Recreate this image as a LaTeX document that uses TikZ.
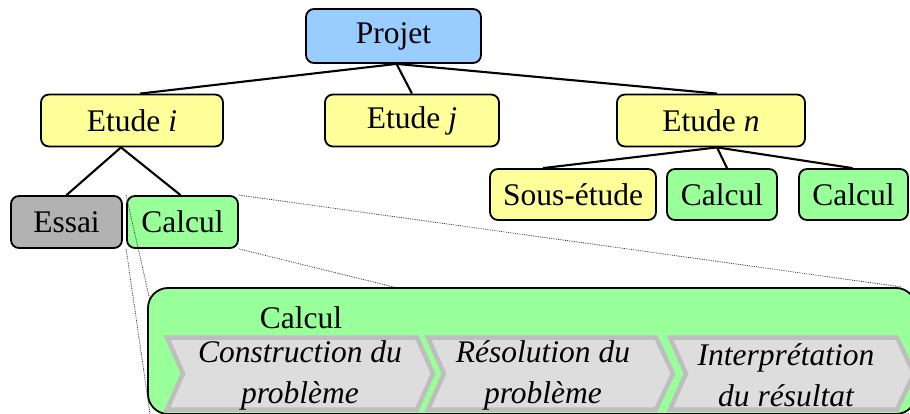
\documentclass[tikz,border=0pt]{standalone}
\usepackage{fontspec}
\setmainfont{Liberation Serif}
\definecolor{cblue}{HTML}{99CCFF}
\definecolor{cyellow}{HTML}{FFFF99}
\definecolor{cgreen}{HTML}{99FF99}
\definecolor{cgray}{HTML}{B2B2B2}
\definecolor{chfill}{HTML}{DDDDDD}
\definecolor{chline}{HTML}{BEBEBE}
\tikzset{
  box/.style={draw=black, line width=1.8pt, rounded corners=8pt, inner sep=0pt, align=center,
    font=\fontsize{31.5}{36}\selectfont},
  proj/.style={box, fill=cblue},
  etude/.style={box, fill=cyellow},
  calc/.style={box, fill=cgreen},
  essai/.style={box, fill=cgray},
  link/.style={draw=black, line width=2.1pt},
  zoomline/.style={draw=black!80, line width=0.8pt, densely dotted},
  chev/.style={draw=chline, fill=chfill, line width=4.5pt, line join=miter},
  chevtext/.style={align=center, inner sep=0pt, font=\fontsize{31.5}{41}\selectfont\itshape},
}
\begin{document}
\begin{tikzpicture}[x=1pt,y=-1pt]
\clip (0,0) rectangle (910,414);
% tree nodes
\node[proj, minimum width=175pt, minimum height=54pt] (projet) at (393.5,36) {Projet};
\node[etude, minimum width=182pt, minimum height=52pt] (ei) at (132,120.5) {Etude \textit{i}};
\node[etude, minimum width=174pt, minimum height=52pt] (ej) at (412,120.5) {Etude \textit{j}};
\node[etude, minimum width=188pt, minimum height=52pt] (en) at (711,120.5) {Etude \textit{n}};
\node[etude, minimum width=166pt, minimum height=51pt] (se) at (573,194.5) {Sous-étude};
\node[calc, minimum width=110pt, minimum height=51pt] (cn1) at (722,194.5) {Calcul};
\node[calc, minimum width=109pt, minimum height=51pt] (cn2) at (853.5,194.5) {Calcul};
\node[essai, minimum width=111pt, minimum height=52pt] (essai) at (66.5,222) {Essai};
\node[calc, minimum width=111pt, minimum height=52pt] (ci) at (182.5,222) {Calcul};
% connectors
\draw[link] ([xshift=3pt]projet.south) -- ([xshift=8pt]ei.north);
\draw[link] ([xshift=3pt]projet.south) -- (ej.north);
\draw[link] ([xshift=3pt]projet.south) -- ([xshift=6pt]en.north);
\draw[link] ([xshift=-11pt]ei.south) -- (essai.north);
\draw[link] ([xshift=-11pt]ei.south) -- ([xshift=-2pt]ci.north);
\draw[link] ([xshift=6pt]en.south) -- ([xshift=-30pt]se.north);
\draw[link] ([xshift=6pt]en.south) -- ([xshift=5pt]cn1.north);
\draw[link] ([xshift=6pt]en.south) -- ([xshift=-1pt]cn2.north);
% zoom lines
\coordinate (zne) at (902,287);
\coordinate (zse) at (910,414);
\coordinate (znw) at (151,305);
\coordinate (zsw) at (150,414);
\draw[zoomline] (ci.north east) -- (zne);
\draw[zoomline] (ci.south east) -- (zse);
\draw[zoomline] (ci.north west) -- (znw);
\draw[zoomline] (ci.south west) -- (zsw);
% big zoom box
\node[draw=black, line width=1.8pt, fill=cgreen, rounded corners=20pt, minimum width=768pt, minimum height=126pt, inner sep=0pt] (big) at (532,351) {};
\node[font=\fontsize{31.5}{36}\selectfont, inner sep=0pt] (bigtitle) at (301,318) {Calcul};
% chevrons
\path[chev] (167,337.5) -- (417,337.5) -- (433,373.5) -- (417,409.5) -- (167,409.5) -- (183,373.5) -- cycle;
\path[chev] (428,337.5) -- (656,337.5) -- (673,373.5) -- (656,409.5) -- (428,409.5) -- (444,373.5) -- cycle;
\path[chev] (670,337.5) -- (897,337.5) -- (914,373.5) -- (897,409.5) -- (670,409.5) -- (686,373.5) -- cycle;
\node[chevtext] (s1) at (300,375) {Construction du\\problème};
\node[chevtext] (s2) at (543,375) {Résolution du\\problème};
\node[chevtext] (s3) at (786,375) {Interprétation\\du résultat};
\end{tikzpicture}
\end{document}
